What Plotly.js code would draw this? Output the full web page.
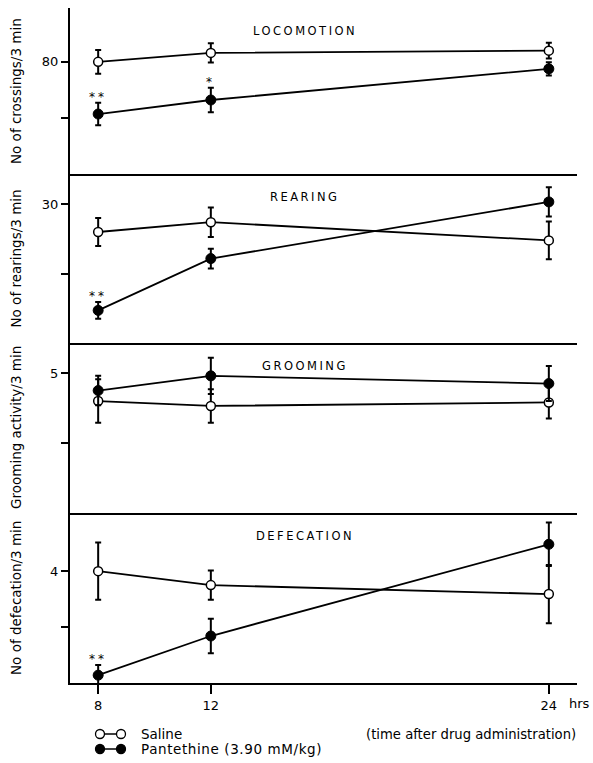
<!DOCTYPE html>
<html>
<head>
<meta charset="utf-8">
<script src="https://cdn.plot.ly/plotly-3.0.1.min.js"></script>
<style>body{margin:0;padding:0;background:#fff;}</style>
</head>
<body>
<div id="chart" style="width:593px;height:763px;"></div>
<script>
// ---- data ----
const hours = [8, 12, 24];
const hourTicks = ['8', '12', '24'];

const locoSaline = [80.0, 81.6, 82.0];
const locoSalineErr = [2.1, 1.7, 1.4];
const locoPan = [70.7, 73.2, 78.75];
const locoPanErr = [2.0, 2.2, 1.2];
const locoStars = ['**', '*', ''];

const rearSaline = [28.0, 28.7, 27.4];
const rearSalineErr = [1.0, 1.05, 1.35];
const rearPan = [22.4, 26.1, 30.15];
const rearPanErr = [0.6, 0.7, 1.05];
const rearStars = ['**', '', ''];

const groomSaline = [4.6, 4.53, 4.58];
const groomSalineErr = [0.31, 0.24, 0.23];
const groomPan = [4.75, 4.96, 4.85];
const groomPanErr = [0.21, 0.26, 0.25];
const groomStars = ['', '', ''];

const defSaline = [4.0, 3.75, 3.59];
const defSalineErr = [0.51, 0.26, 0.52];
const defPan = [2.14, 2.84, 4.48];
const defPanErr = [0.18, 0.31, 0.39];
const defStars = ['**', '', ''];

const panelTitles = ['LOCOMOTION', 'REARING', 'GROOMING', 'DEFECATION'];
const yTitles = ['No of crossings/3 min', 'No of rearings/3 min', 'Grooming activity/3 min', 'No of defecation/3 min'];
const yTickVals = [[70, 80], [25, 30], [4, 5], [3, 4]];
const yTickText = [['', '80'], ['', '30'], ['', '5'], ['', '4']];
const yRanges = [[60, 89.6], [20.07, 32.14], [3.0, 5.43], [2.0, 5.04]];

const legendNames = ['Saline', 'Pantethine (3.90 mM/kg)'];
const xNote = '(time after drug administration)';
const xUnit = 'hrs';

// ---- layout helpers ----
const FONT = 'DejaVu Sans, Liberation Sans, Arial, sans-serif';
const INK = '#000';
const PH = 675, PW = 507; // plot area px
const domains = [[0.754, 1], [0.5037, 0.754], [0.2519, 0.5037], [0, 0.2519]];
const panels = [
  {s: locoSaline, se: locoSalineErr, p: locoPan, pe: locoPanErr, st: locoStars},
  {s: rearSaline, se: rearSalineErr, p: rearPan, pe: rearPanErr, st: rearStars},
  {s: groomSaline, se: groomSalineErr, p: groomPan, pe: groomPanErr, st: groomStars},
  {s: defSaline, se: defSalineErr, p: defPan, pe: defPanErr, st: defStars}
];

const traces = [];
const layout = {
  width: 593, height: 763,
  margin: {l: 70, r: 16, t: 8, b: 80},
  paper_bgcolor: '#fff', plot_bgcolor: '#fff',
  showlegend: false,
  font: {family: FONT, color: INK, size: 12},
  annotations: [], shapes: []
};

panels.forEach((pn, i) => {
  const n = i === 0 ? '' : String(i + 1);
  const xa = 'x' + n, ya = 'y' + n;
  const errStyle = (arr) => ({type: 'data', array: arr, visible: true, color: INK, thickness: 2, width: 3});
  traces.push({
    x: hours, y: pn.s, xaxis: xa, yaxis: ya, type: 'scatter', mode: 'lines+markers',
    name: legendNames[0],
    line: {color: INK, width: 1.8},
    marker: {symbol: 'circle', size: 9, color: '#fff', line: {color: INK, width: 1.5}},
    error_y: errStyle(pn.se)
  });
  traces.push({
    x: hours, y: pn.p, xaxis: xa, yaxis: ya, type: 'scatter', mode: 'lines+markers',
    name: legendNames[1],
    line: {color: INK, width: 1.8},
    marker: {symbol: 'circle', size: 10, color: INK, line: {color: INK, width: 1}},
    error_y: errStyle(pn.pe)
  });
  layout['xaxis' + n] = {
    domain: [0, 1], anchor: ya, range: [7, 25],
    showline: true, linewidth: 2, linecolor: INK, mirror: false,
    showgrid: false, zeroline: false,
    tickvals: hours, ticktext: hourTicks,
    ticks: i === 3 ? 'outside' : '', ticklen: 9, tickwidth: 1.5, tickcolor: INK,
    showticklabels: i === 3,
    tickfont: {family: FONT, size: 13, color: INK}
  };
  layout['yaxis' + n] = {
    domain: domains[i], anchor: xa, range: yRanges[i],
    showline: true, linewidth: 2, linecolor: INK,
    showgrid: false, zeroline: false,
    tickvals: yTickVals[i], ticktext: yTickText[i],
    ticks: 'outside', ticklen: 7, tickwidth: 1.5, tickcolor: INK,
    tickfont: {family: FONT, size: 13, color: INK}
  };
  // significance stars
  pn.st.forEach((s, k) => {
    if (!s) return;
    layout.annotations.push({
      xref: xa, yref: ya, x: hours[k], y: pn.p[k] + pn.pe[k],
      text: '<span style="letter-spacing:3px">' + s + '</span>',
      showarrow: false, xanchor: 'center', yanchor: 'bottom', yshift: -3,
      font: {family: FONT, size: 12, color: INK}
    });
  });
  // panel title
  layout.annotations.push({
    xref: 'paper', yref: 'paper', x: (305 - 70) / PW, y: domains[i][1] - 23 / PH,
    text: '<span style="letter-spacing:2.5px">' + panelTitles[i] + '</span>',
    showarrow: false, xanchor: 'center', yanchor: 'middle',
    font: {family: FONT, size: 11.5, color: INK}
  });
  // y title
  layout.annotations.push({
    xref: 'paper', yref: 'paper', x: (16 - 70) / PW, y: (domains[i][0] + domains[i][1]) / 2,
    text: yTitles[i], textangle: -90,
    showarrow: false, xanchor: 'center', yanchor: 'middle',
    font: {family: FONT, size: 13.5, color: INK}
  });
});

// x unit and note
layout.annotations.push({
  xref: 'paper', yref: 'paper', x: (567 - 70) / PW, y: (683 - 703) / PH,
  text: xUnit, showarrow: false, xanchor: 'left', yanchor: 'middle',
  font: {family: FONT, size: 13, color: INK}
});
layout.annotations.push({
  xref: 'paper', yref: 'paper', x: (364 - 70) / PW, y: (683 - 734) / PH,
  text: xNote, showarrow: false, xanchor: 'left', yanchor: 'middle',
  font: {family: FONT, size: 13.2, color: INK}
});
// legend
const legY = [734, 749];
legendNames.forEach((nm, j) => {
  const yp = (683 - legY[j]) / PH;
  const xp = (100 - 70) / PW;
  layout.annotations.push({
    xref: 'paper', yref: 'paper', x: (139 - 70) / PW, y: yp,
    text: j === 1 ? '<span style="letter-spacing:0.6px">' + nm + '</span>' : nm,
    showarrow: false, xanchor: 'left', yanchor: 'middle',
    font: {family: FONT, size: 13.5, color: INK}
  });
  const fill = j === 0 ? '#fff' : INK;
  layout.shapes.push({
    type: 'line', xref: 'paper', yref: 'paper', xsizemode: 'pixel', ysizemode: 'pixel',
    xanchor: xp, yanchor: yp, x0: 0, x1: 21, y0: 0, y1: 0,
    line: {color: INK, width: 1.5}
  });
  [0, 21].forEach(dx => {
    layout.shapes.push({
      type: 'circle', xref: 'paper', yref: 'paper', xsizemode: 'pixel', ysizemode: 'pixel',
      xanchor: xp, yanchor: yp, x0: dx - 4.5, x1: dx + 4.5, y0: -4.5, y1: 4.5,
      fillcolor: fill, line: {color: INK, width: 1.3}
    });
  });
});

Plotly.newPlot('chart', traces, layout, {staticPlot: true, displayModeBar: false});
</script>
</body>
</html>
